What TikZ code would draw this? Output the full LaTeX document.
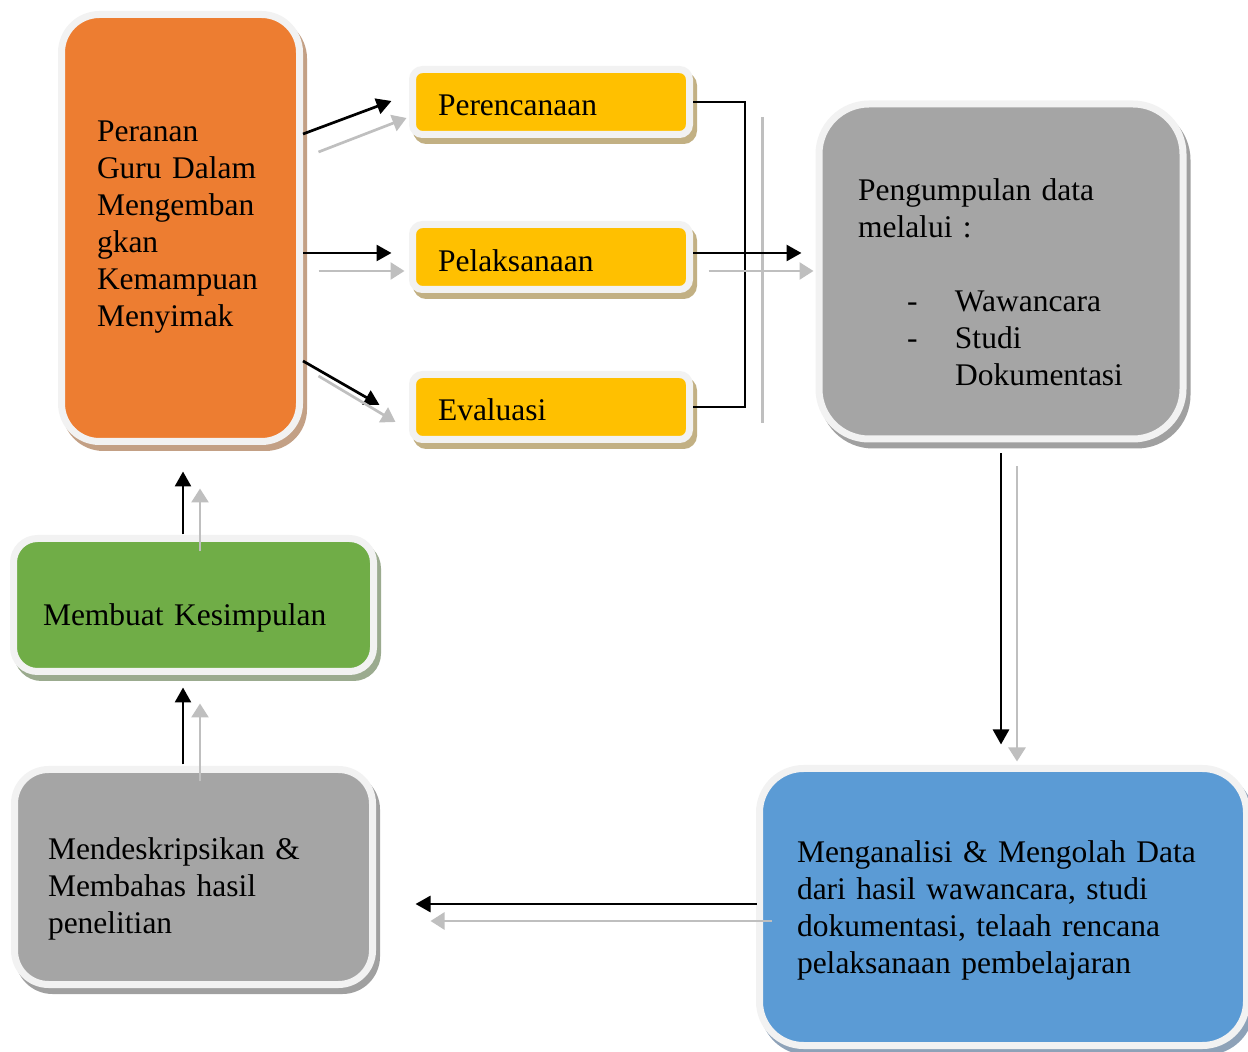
\documentclass[tikz,border=0pt]{standalone}
\usepackage{fontspec}
\setmainfont{Liberation Serif}
\usetikzlibrary{arrows.meta,shadows,positioning}
\definecolor{oranye}{HTML}{ED7D31}
\definecolor{kuning}{HTML}{FFC000}
\definecolor{abu}{HTML}{A5A5A5}
\definecolor{hijau}{HTML}{70AD47}
\definecolor{biru}{HTML}{5B9BD5}
\definecolor{tepi}{HTML}{F2F2F2}
\definecolor{abumuda}{HTML}{BFBFBF}
\definecolor{oranyeb}{HTML}{C3A085}
\definecolor{kuningb}{HTML}{C2B083}
\definecolor{hijaub}{HTML}{9BAB8F}
\definecolor{abub}{HTML}{A0A0A0}
\definecolor{birub}{HTML}{8EA2B8}
\newcommand{\butir}[1]{\hspace*{24.5pt}\makebox[24pt][l]{-}#1}

\tikzset{
  kotak/.style={rectangle, rounded corners=#1, draw=tepi, line width=3.5pt, inner sep=0pt,
    align=left, font={\fontsize{15.75}{18.5}\selectfont\hyphenpenalty=10000}, text depth=4pt},
  bayang/.style={drop shadow={shadow xshift=2pt, shadow yshift=-3pt, fill=#1, draw=#1,
    line width=3.5pt, opacity=1}},
  panah/.style={line width=1.35pt, -{Triangle[length=7.5pt,width=8pt]}},
  panahabu/.style={line width=1.35pt, draw=abumuda, -{Triangle[length=7pt,width=8.5pt]}},
  garis/.style={line width=1pt},
  garisabu/.style={line width=1.5pt, draw=abumuda}
}

\begin{document}
\begin{tikzpicture}[x=0.5pt,y=-0.5pt]
  \useasboundingbox (0,0) rectangle (1248,1052);

  \node[kotak=19pt, fill=oranye, bayang=oranyeb, minimum width=119pt, minimum height=213.5pt,
    text width=83.5pt, text height=10.5pt, text depth=96.5pt] (peran) at (180.5,228)
    {Peranan\\ Guru Dalam\\ Mengemban\\ gkan\\ Kemampuan\\ Menyimak};

  \node[kotak=5pt, fill=kuning, bayang=kuningb, minimum width=138.5pt, minimum height=32.5pt,
    text width=113pt, text height=17.5pt] (rencana) at (551,102) {Perencanaan};
  \node[kotak=5pt, fill=kuning, bayang=kuningb, minimum width=138.5pt, minimum height=32.5pt,
    text width=113pt, text height=18.5pt] (laksana) at (551,257) {Pelaksanaan};
  \node[kotak=5pt, fill=kuning, bayang=kuningb, minimum width=138.5pt, minimum height=32.5pt,
    text width=113pt, text height=18pt] (evaluasi) at (551,407) {Evaluasi};

  \node[kotak=25pt, fill=abu, bayang=abub, minimum width=182pt, minimum height=167.5pt,
    text width=143pt, text height=26pt, text depth=96.5pt] (kumpul) at (1001,271.5)
    {Pengumpulan data\\ melalui :\\[18.5pt] \butir{Wawancara}\\ \butir{Studi}\\ \hspace*{48.5pt}Dokumentasi};

  \node[kotak=22pt, fill=biru, bayang=birub, minimum width=243.5pt, minimum height=138.5pt,
    text width=206pt, text height=15pt, text depth=59.5pt] (analisis) at (1003,907)
    {Menganalisi \& Mengolah Data\\ dari hasil wawancara, studi\\ dokumentasi, telaah rencana\\ pelaksanaan pembelajaran};

  \node[kotak=17pt, fill=abu, bayang=abub, minimum width=179pt, minimum height=107.5pt,
    text width=145.5pt, text height=24pt, text depth=41pt] (bahas) at (193.5,877)
    {Mendeskripsikan \&\\ Membahas hasil\\ penelitian};

  \node[kotak=12pt, fill=hijau, bayang=hijaub, minimum width=180pt, minimum height=66.5pt,
    text width=150.5pt, text height=25pt] (simpul) at (193.5,605) {Membuat Kesimpulan};

  \coordinate (siku) at (745,257);
  \coordinate (pisah1) at (762,117);
  \coordinate (pisah2) at (762,423);

  \draw[panah] ([shift={(0,-94)}]peran.east) -- ([shift={(-17.5,-1)}]rencana.west);
  \draw[panahabu] ([shift={(15.5,-76)}]peran.east) -- ([shift={(-2.5,16)}]rencana.west);
  \draw[panah] ([shift={(0,25)}]peran.east) -- ([shift={(-17.5,-4)}]laksana.west);
  \draw[panahabu] ([shift={(15.5,43)}]peran.east) -- ([shift={(-4.5,14)}]laksana.west);
  \draw[panah] ([shift={(0,133)}]peran.east) -- ([shift={(-29.5,-2)}]evaluasi.west);
  \draw[panahabu] ([shift={(15.5,148)}]peran.east) -- ([shift={(-13.5,15)}]evaluasi.west);

  \draw[garis] (rencana.east) -| (siku) |- (evaluasi.east);
  \draw[garisabu] (pisah1) -- (pisah2);
  \draw[panah] ([shift={(0,-4)}]laksana.east) -- ([shift={(-14,-18.5)}]kumpul.west);
  \draw[panahabu] ([shift={(15.5,14)}]laksana.east) -- ([shift={(-2,-0.5)}]kumpul.west);

  \draw[panah] ([shift={(0,11)}]kumpul.south) -- ([shift={(-2,-20.5)}]analisis.north);
  \draw[panahabu] ([shift={(16,24)}]kumpul.south) -- ([shift={(14,-3.5)}]analisis.north);

  \draw[panah] ([shift={(0.5,-3)}]analisis.west) -- ([shift={(39.5,27)}]bahas.east);
  \draw[panahabu] ([shift={(15.5,14)}]analisis.west) -- ([shift={(54.5,44)}]bahas.east);

  \draw[panah] ([shift={(-10.5,-1.5)}]bahas.north) -- ([shift={(-10.5,12.5)}]simpul.south);
  \draw[panahabu] ([shift={(6.5,15.5)}]bahas.north) -- ([shift={(6.5,28.5)}]simpul.south);

  \draw[panah] ([shift={(-10.5,-0.5)}]simpul.north) -- ([shift={(2.5,26.5)}]peran.south);
  \draw[panahabu] ([shift={(6.5,16.5)}]simpul.north) -- ([shift={(19.5,43.5)}]peran.south);
\end{tikzpicture}
\end{document}
